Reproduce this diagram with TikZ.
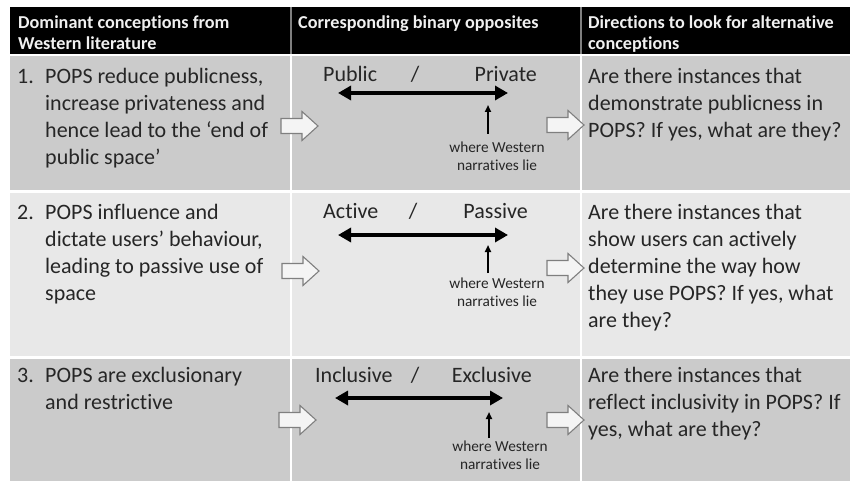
\documentclass[tikz,border=0pt]{standalone}
\usepackage{fontspec}
\setmainfont{Carlito}[Ligatures=NoCommon, Contextuals=NoAlternate]
\usetikzlibrary{arrows.meta}
\definecolor{rowdark}{HTML}{CBCBCB}
\definecolor{rowlight}{HTML}{E8E8E8}
\definecolor{txt}{HTML}{262626}
\definecolor{hdtxt}{HTML}{F0F0F0}
\definecolor{arrfill}{HTML}{F4F4F4}
\definecolor{arrdraw}{HTML}{7F7F7F}
\tikzset{
  bodytext/.style={anchor=north west, inner sep=0pt, align=left, text=txt, font=\fontsize{22}{27}\selectfont},
  headtext/.style={anchor=north west, inner sep=0pt, align=left, text=hdtxt, font=\bfseries\fontsize{18.2}{21}\selectfont},
  pole/.style={anchor=base, inner sep=0pt, text=txt, font=\fontsize{22}{27}\selectfont},
  note/.style={anchor=north, inner sep=0pt, align=center, text=txt, font=\fontsize{15.3}{18}\selectfont},
  dblarrow/.style={line width=3.6pt, black, {Triangle[length=13pt,width=14pt]}-{Triangle[length=13pt,width=14pt]}},
  uparrow/.style={line width=1.8pt, black, -{Triangle[length=7pt,width=6pt]}},
  barrow/.style={draw=arrdraw, fill=arrfill, line width=1.1pt, line join=miter},
  blockarrow/.pic={\draw[barrow] (0,-7.5) -- (21,-7.5) -- (21,-14.5) -- (37,0) -- (21,14.5) -- (21,7.5) -- (0,7.5) -- cycle;}
}
\begin{document}
\begin{tikzpicture}[x=1pt,y=-1pt]
\useasboundingbox (0,0) rectangle (850,481);
% backgrounds
\fill[black] (10,7) rectangle (850,54);
\fill[rowdark] (10,56) rectangle (850,190);
\fill[rowlight] (10,192.5) rectangle (850,356);
\fill[rowdark] (10,358.5) rectangle (850,481);
\draw[white, line width=1.6pt] (291,56) -- (291,481) (581,56) -- (581,481);
\draw[arrdraw, line width=1.6pt] (291,7) -- (291,54) (581,7) -- (581,54);
% header
\node[headtext] (h1) at (18,14) {\strut Dominant conceptions from\\Western literature};
\node[headtext] (h2) at (298,14) {\strut Corresponding binary opposites};
\node[headtext] (h3) at (588,14) {\strut Directions to look for alternative\\conceptions};
% column 1
\node[bodytext] (n1) at (17,64) {\strut 1.};
\node[bodytext] (c1) at (45,64) {\strut POPS reduce publicness,\\increase privateness and\\hence lead to the ‘end of\\public space’};
\node[bodytext] (n2) at (17,200) {\strut 2.};
\node[bodytext] (c2) at (45,200) {\strut POPS influence and\\dictate users’ behaviour,\\leading to passive use of\\space};
\node[bodytext] (n3) at (17,363) {\strut 3.};
\node[bodytext] (c3) at (45,363) {\strut POPS are exclusionary\\and restrictive};
% column 3
\node[bodytext] (d1) at (588,64) {\strut Are there instances that\\demonstrate publicness in\\POPS? If yes, what are they?};
\node[bodytext] (d2) at (588,200) {\strut Are there instances that\\show users can actively\\determine the way how\\they use POPS? If yes, what\\are they?};
\node[bodytext] (d3) at (588,363) {\strut Are there instances that\\reflect inclusivity in POPS? If\\yes, what are they?};
% column 2, row 1
\node[pole, anchor=base west] (pub) at (323,82) {Public};
\node[pole] (s1) at (415,82) {/};
\node[pole, anchor=base east] (priv) at (537,82) {Private};
\coordinate (a1l) at (338,93); \coordinate (a1r) at (508,93);
\draw[dblarrow] (a1l) -- (a1r);
\node[note] (w1) at (497,142) {where Western\\narratives lie};
\coordinate (u1) at (488,105);
\coordinate (u1s) at (488,134);
\draw[uparrow] (u1s) -- (u1);
% column 2, row 2
\node[pole, anchor=base west] (act) at (323,218) {Active};
\node[pole] (s2) at (413,218) {/};
\node[pole, anchor=base east] (pas) at (528,218) {Passive};
\coordinate (a2l) at (338,235); \coordinate (a2r) at (508,235);
\draw[dblarrow] (a2l) -- (a2r);
\node[note] (w2) at (497,278) {where Western\\narratives lie};
\coordinate (u2) at (488,245);
\coordinate (u2s) at (488,273);
\draw[uparrow] (u2s) -- (u2);
% column 2, row 3
\node[pole, anchor=base west] (inc) at (315,382) {Inclusive};
\node[pole] (s3) at (415,382) {/};
\node[pole, anchor=base east] (exc) at (532,382) {Exclusive};
\coordinate (a3l) at (335,398); \coordinate (a3r) at (503,398);
\draw[dblarrow] (a3l) -- (a3r);
\node[note] (w3) at (500,441) {where Western\\narratives lie};
\coordinate (u3) at (489,412);
\coordinate (u3s) at (489,438);
\draw[uparrow] (u3s) -- (u3);
% block arrows
\pic at (281,126) {blockarrow};
\pic at (547,125) {blockarrow};
\pic at (282,271) {blockarrow};
\pic at (547,268) {blockarrow};
\pic at (279,420) {blockarrow};
\pic at (547,420) {blockarrow};
\end{tikzpicture}
\end{document}
